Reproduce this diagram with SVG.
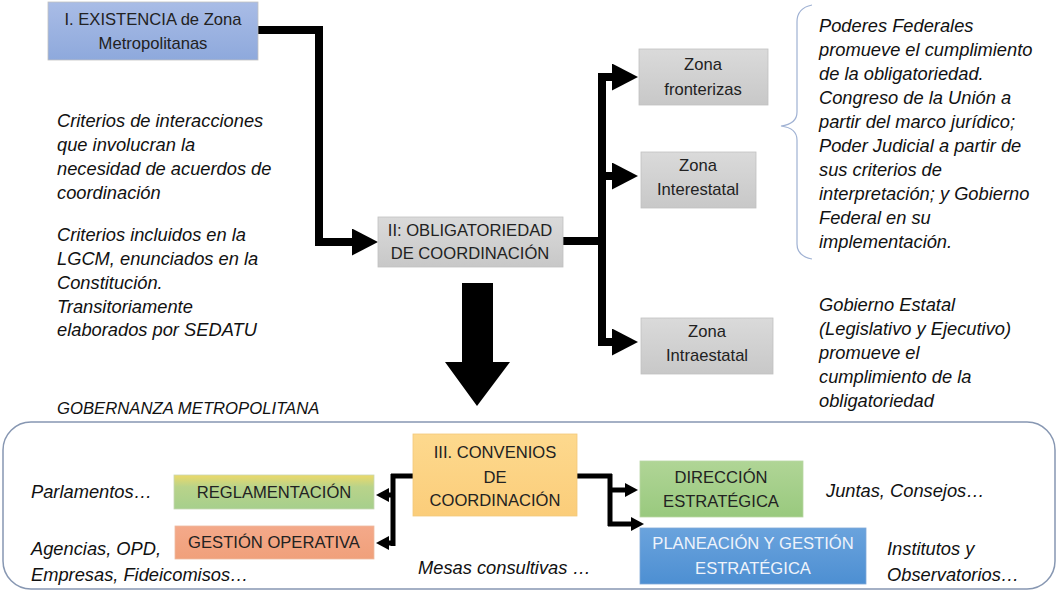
<svg xmlns="http://www.w3.org/2000/svg" width="1058" height="591" viewBox="0 0 1058 591">
<defs>
<linearGradient id="gBlue1" x1="0" y1="0" x2="0" y2="1"><stop offset="0" stop-color="#a9bce6"/><stop offset="1" stop-color="#8ea9dc"/></linearGradient>
<linearGradient id="gGray" x1="0" y1="0" x2="0" y2="1"><stop offset="0" stop-color="#dadada"/><stop offset="1" stop-color="#c8c8c8"/></linearGradient>
<linearGradient id="gOrange" x1="0" y1="0" x2="0" y2="1"><stop offset="0" stop-color="#fdd98e"/><stop offset="1" stop-color="#fbcd7a"/></linearGradient>
<linearGradient id="gYG" x1="0" y1="0" x2="0" y2="1"><stop offset="0" stop-color="#ecd96a"/><stop offset="0.35" stop-color="#b9d38a"/><stop offset="1" stop-color="#a6cf8c"/></linearGradient>
<linearGradient id="gSalmon" x1="0" y1="0" x2="0" y2="1"><stop offset="0" stop-color="#f4a98a"/><stop offset="1" stop-color="#f0a07a"/></linearGradient>
<linearGradient id="gGreen" x1="0" y1="0" x2="0" y2="1"><stop offset="0" stop-color="#b0d596"/><stop offset="1" stop-color="#99c97e"/></linearGradient>
<linearGradient id="gBlue2" x1="0" y1="0" x2="0" y2="1"><stop offset="0" stop-color="#6aa3dd"/><stop offset="1" stop-color="#4d8fd2"/></linearGradient>
<marker id="ah" markerUnits="userSpaceOnUse" markerWidth="27" markerHeight="28" refX="0" refY="13.5" orient="auto"><path d="M0,0 L26,13.5 L0,27 z" fill="#000"/></marker>
<marker id="ahs" markerUnits="userSpaceOnUse" markerWidth="15" markerHeight="15" refX="0" refY="7" orient="auto"><path d="M0,0 L13,7 L0,14 z" fill="#000"/></marker>
<style>
.box{stroke:#c0c0c0;stroke-width:0.8}
.lbl{font-family:"Liberation Sans",Arial,sans-serif;font-size:16.6px;fill:#222;text-anchor:middle}
.lblw{font-family:"Liberation Sans",Arial,sans-serif;font-size:16.6px;fill:#eef3fb;text-anchor:middle}
.it{font-family:"Liberation Sans",Arial,sans-serif;font-size:18.3px;font-style:italic;fill:#111}
.con{fill:none;stroke:#000;stroke-width:8}
.cons{fill:none;stroke:#000;stroke-width:5}
</style>
</defs>
<rect width="1058" height="591" fill="#fff"/>

<g id="frame">
<rect x="3" y="422" width="1052" height="167" rx="28" ry="28" fill="none" stroke="#8797b2" stroke-width="1.5"/>
</g>

<g id="connectors">
<path class="con" d="M258,30 H319 V242 H352" marker-end="url(#ah)"/>
<path class="con" d="M563,241 H606"/>
<path class="con" d="M602,73 V346"/>
<path class="con" d="M598,77 H612" marker-end="url(#ah)"/>
<path class="con" d="M598,176 H612" marker-end="url(#ah)"/>
<path class="con" d="M598,342 H612" marker-end="url(#ah)"/>
<polygon points="462,283 493,283 493,362 510,362 477,406 445,362 462,362" fill="#000"/>
<path class="cons" d="M413,476 H391"/>
<path class="cons" d="M393,474 V546"/>
<path class="cons" d="M395,495 H389" marker-end="url(#ahs)"/>
<path class="cons" d="M395,543 H389" marker-end="url(#ahs)"/>
<path class="cons" d="M577,476 H612"/>
<path class="cons" d="M610,474 V526"/>
<path class="cons" d="M608,490 H625" marker-end="url(#ahs)"/>
<path class="cons" d="M608,524 H631" marker-end="url(#ahs)"/>
</g>

<g id="brace">
<path d="M812,5 Q797,8 797,22 V112 Q797,124 781,126 Q797,128 797,140 V244 Q797,256 812,259" fill="none" stroke="#9fb1d3" stroke-width="1.2"/>
</g>

<g id="n-existencia">
<rect class="box" x="48" y="2" width="210" height="58" fill="url(#gBlue1)"/>
<text class="lbl" x="153" y="25">I. EXISTENCIA de Zona</text>
<text class="lbl" x="153" y="49">Metropolitanas</text>
</g>

<g id="n-obligatoriedad">
<rect class="box" x="378" y="217" width="185" height="50" fill="url(#gGray)"/>
<text class="lbl" x="470" y="236">II: OBLIGATORIEDAD</text>
<text class="lbl" x="470" y="259">DE COORDINACIÓN</text>
</g>

<g id="n-fronterizas">
<rect class="box" x="639" y="49" width="129" height="56" fill="url(#gGray)"/>
<text class="lbl" x="703" y="70">Zona</text>
<text class="lbl" x="703" y="95">fronterizas</text>
</g>

<g id="n-interestatal">
<rect class="box" x="641" y="152" width="115" height="56" fill="url(#gGray)"/>
<text class="lbl" x="698" y="171">Zona</text>
<text class="lbl" x="698" y="195">Interestatal</text>
</g>

<g id="n-intraestatal">
<rect class="box" x="641" y="318" width="132" height="56" fill="url(#gGray)"/>
<text class="lbl" x="707" y="337">Zona</text>
<text class="lbl" x="707" y="361">Intraestatal</text>
</g>

<g id="t-criterios1">
<text class="it" x="57" y="127">Criterios de interacciones</text>
<text class="it" x="57" y="151">que involucran la</text>
<text class="it" x="57" y="175">necesidad de acuerdos de</text>
<text class="it" x="57" y="199">coordinación</text>
</g>

<g id="t-criterios2">
<text class="it" x="57" y="241">Criterios incluidos en la</text>
<text class="it" x="57" y="265">LGCM, enunciados en la</text>
<text class="it" x="57" y="289">Constitución.</text>
<text class="it" x="57" y="313">Transitoriamente</text>
<text class="it" x="57" y="336">elaborados por SEDATU</text>
</g>

<g id="t-federales">
<text class="it" x="819" y="32">Poderes Federales</text>
<text class="it" x="819" y="56">promueve el cumplimiento</text>
<text class="it" x="819" y="80">de la obligatoriedad.</text>
<text class="it" x="819" y="104">Congreso de la Unión a</text>
<text class="it" x="819" y="128">partir del marco jurídico;</text>
<text class="it" x="819" y="152">Poder Judicial a partir de</text>
<text class="it" x="819" y="176">sus criterios de</text>
<text class="it" x="819" y="200">interpretación; y Gobierno</text>
<text class="it" x="819" y="224">Federal en su</text>
<text class="it" x="819" y="248">implementación.</text>
</g>

<g id="t-estatal">
<text class="it" x="819" y="311">Gobierno Estatal</text>
<text class="it" x="819" y="335">(Legislativo y Ejecutivo)</text>
<text class="it" x="819" y="359">promueve el</text>
<text class="it" x="819" y="383">cumplimiento de la</text>
<text class="it" x="819" y="407">obligatoriedad</text>
</g>

<g id="t-gobernanza">
<text class="it" x="57" y="414" style="font-size:16.7px">GOBERNANZA METROPOLITANA</text>
</g>

<g id="n-convenios">
<rect x="413" y="434" width="164" height="82" fill="url(#gOrange)" stroke="#f3c97a" stroke-width="0.8"/>
<text class="lbl" x="495" y="458">III. CONVENIOS</text>
<text class="lbl" x="495" y="483">DE</text>
<text class="lbl" x="495" y="506">COORDINACIÓN</text>
</g>

<g id="n-reglamentacion">
<rect x="174" y="475" width="200" height="34" fill="url(#gYG)" stroke="#c9d7b4" stroke-width="0.8"/>
<text class="lbl" x="274" y="498">REGLAMENTACIÓN</text>
</g>

<g id="n-gestion">
<rect x="175" y="526" width="199" height="33" fill="url(#gSalmon)" stroke="#eebba0" stroke-width="0.8"/>
<text class="lbl" x="274" y="548">GESTIÓN OPERATIVA</text>
</g>

<g id="n-direccion">
<rect x="640" y="461" width="163" height="56" fill="url(#gGreen)" stroke="#b8d6a4" stroke-width="0.8"/>
<text class="lbl" x="721" y="483">DIRECCIÓN</text>
<text class="lbl" x="721" y="507">ESTRATÉGICA</text>
</g>

<g id="n-planeacion">
<rect x="640" y="528" width="226" height="56" fill="url(#gBlue2)" stroke="#7fa9d8" stroke-width="0.8"/>
<text class="lblw" x="753" y="549">PLANEACIÓN Y GESTIÓN</text>
<text class="lblw" x="753" y="574">ESTRATÉGICA</text>
</g>

<g id="t-bottom">
<text class="it" x="31" y="498">Parlamentos…</text>
<text class="it" x="31" y="555">Agencias, OPD,</text>
<text class="it" x="31" y="581">Empresas, Fideicomisos…</text>
<text class="it" x="418" y="574">Mesas consultivas …</text>
<text class="it" x="826" y="497">Juntas, Consejos…</text>
<text class="it" x="887" y="555">Institutos y</text>
<text class="it" x="887" y="581">Observatorios…</text>
</g>
</svg>
